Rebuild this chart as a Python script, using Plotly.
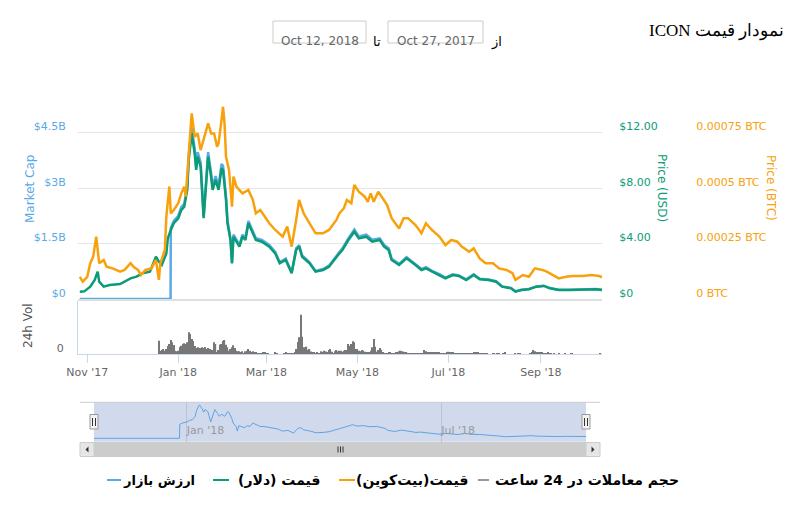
import plotly.graph_objects as go
import pandas as pd

# ---------------- data ----------------
usd_dates = ["2017-10-27","2017-10-30","2017-11-03","2017-11-06","2017-11-08","2017-11-09","2017-11-12","2017-11-16",
             "2017-11-23","2017-11-30","2017-12-04","2017-12-08","2017-12-13","2017-12-17","2017-12-19","2017-12-21",
             "2017-12-24","2017-12-25","2017-12-27","2017-12-29","2018-01-01","2018-01-03","2018-01-05","2018-01-07",
             "2018-01-08","2018-01-10","2018-01-12","2018-01-13","2018-01-14","2018-01-16","2018-01-18","2018-01-20",
             "2018-01-21","2018-01-23","2018-01-24","2018-01-26","2018-01-28","2018-01-30","2018-01-31","2018-02-02",
             "2018-02-03","2018-02-05","2018-02-06","2018-02-07","2018-02-11","2018-02-13","2018-02-15","2018-02-17",
             "2018-02-20","2018-02-22","2018-02-26","2018-03-03","2018-03-07","2018-03-10","2018-03-14","2018-03-18",
             "2018-03-21","2018-03-23","2018-03-25","2018-03-30","2018-04-03","2018-04-08","2018-04-12","2018-04-17",
             "2018-04-19","2018-04-21","2018-04-25","2018-04-29","2018-05-02","2018-05-07","2018-05-11","2018-05-16",
             "2018-05-19","2018-05-22","2018-05-24","2018-05-29","2018-06-03","2018-06-09","2018-06-13","2018-06-16",
             "2018-06-20","2018-06-25","2018-06-29","2018-07-04","2018-07-08","2018-07-13","2018-07-18","2018-07-22",
             "2018-07-28","2018-08-02","2018-08-06","2018-08-12","2018-08-15","2018-08-19","2018-08-24","2018-08-29",
             "2018-09-03","2018-09-07","2018-09-13","2018-09-20","2018-09-29","2018-10-08","2018-10-12"]
usd_price = [0.53,0.55,0.89,1.37,1.97,1.25,0.89,1.01,
             1.08,1.49,1.61,1.85,1.97,3.05,2.69,2.45,
             3.29,4.37,4.97,5.46,5.82,6.41,6.65,7.86,
             10.02,11.94,10.50,9.30,10.26,9.53,5.82,8.81,
             10.26,8.81,7.86,8.58,7.86,9.42,9.30,7.14,
             5.46,4.25,2.57,4.49,3.77,4.49,4.25,5.46,
             4.74,4.25,4.13,3.77,3.29,2.57,2.81,1.85,
             3.53,3.77,3.05,2.57,1.97,2.09,2.33,3.05,
             3.29,3.53,4.25,4.85,4.37,4.49,4.13,4.25,
             3.77,3.53,2.81,2.45,2.93,2.45,2.09,2.21,
             1.97,1.73,1.49,1.73,1.66,1.37,1.73,1.42,
             1.37,1.25,0.89,0.77,0.53,0.65,0.70,0.89,
             0.94,0.77,0.65,0.65,0.70,0.70,0.65]

mcap_dates = ["2017-10-27","2017-12-26 20:00"] + usd_dates[18:]
mcap_billion = [0,0,
                1.92,2.11,2.25,2.48,2.57,3.04,
                3.88,4.62,4.06,3.60,3.97,3.69,2.25,3.41,
                3.97,3.41,3.04,3.32,3.04,3.65,3.60,2.76,
                2.11,1.64,0.99,1.74,1.46,1.74,1.64,2.11,
                1.83,1.64,1.60,1.46,1.27,0.99,1.09,0.72,
                1.37,1.46,1.18,0.99,0.76,0.81,0.90,1.18,
                1.27,1.37,1.64,1.88,1.69,1.74,1.60,1.64,
                1.46,1.37,1.09,0.95,1.13,0.95,0.81,0.86,
                0.76,0.67,0.58,0.67,0.64,0.53,0.67,0.55,
                0.53,0.48,0.34,0.30,0.21,0.25,0.27,0.34,
                0.36,0.30,0.25,0.25,0.27,0.27,0.25]

btc_dates = ["2017-10-27","2017-10-29","2017-11-01","2017-11-03","2017-11-05","2017-11-07","2017-11-08","2017-11-09",
             "2017-11-12","2017-11-14","2017-11-18","2017-11-23","2017-11-26","2017-11-30","2017-12-02","2017-12-05",
             "2017-12-07","2017-12-10","2017-12-14","2017-12-17","2017-12-19","2017-12-20","2017-12-23","2017-12-24",
             "2017-12-26","2017-12-27","2017-12-29","2018-01-01","2018-01-03","2018-01-05","2018-01-06","2018-01-08",
             "2018-01-10","2018-01-12","2018-01-14","2018-01-16","2018-01-18","2018-01-21","2018-01-23","2018-01-25",
             "2018-01-27","2018-01-28","2018-01-30","2018-01-31","2018-02-01","2018-02-02","2018-02-04","2018-02-06",
             "2018-02-07","2018-02-09","2018-02-13","2018-02-17","2018-02-20","2018-02-22","2018-02-25","2018-02-28",
             "2018-03-03","2018-03-07","2018-03-12","2018-03-15","2018-03-18","2018-03-21","2018-03-23","2018-03-26",
             "2018-03-30","2018-04-03","2018-04-08","2018-04-12","2018-04-17","2018-04-19","2018-04-22","2018-04-24",
             "2018-04-27","2018-04-29","2018-05-02","2018-05-06","2018-05-08","2018-05-10","2018-05-12","2018-05-15",
             "2018-05-18","2018-05-21","2018-05-24","2018-05-29","2018-06-01","2018-06-04","2018-06-09","2018-06-13",
             "2018-06-16","2018-06-20","2018-06-25","2018-06-29","2018-07-03","2018-07-07","2018-07-10","2018-07-15",
             "2018-07-18","2018-07-22","2018-07-26","2018-07-31","2018-08-04","2018-08-09","2018-08-13","2018-08-15",
             "2018-08-20","2018-08-24","2018-08-28","2018-09-02","2018-09-05","2018-09-09","2018-09-13","2018-09-18",
             "2018-09-22","2018-09-29","2018-10-05","2018-10-10","2018-10-12"]
btc_price = [0.000100,0.000078,0.000100,0.000161,0.000191,0.000281,0.000221,0.000161,
             0.000176,0.000145,0.000138,0.000123,0.000131,0.000161,0.000145,0.000131,
             0.000108,0.000131,0.000138,0.000176,0.000086,0.000161,0.000221,0.000371,
             0.000506,0.000386,0.000401,0.000431,0.000476,0.000506,0.000461,0.000671,
             0.000836,0.000731,0.000746,0.000671,0.000716,0.000791,0.000746,0.000746,
             0.000686,0.000701,0.000806,0.000866,0.000791,0.000641,0.000581,0.000416,
             0.000551,0.000506,0.000476,0.000491,0.000446,0.000386,0.000401,0.000371,
             0.000341,0.000311,0.000281,0.000326,0.000236,0.000356,0.000446,0.000386,
             0.000341,0.000296,0.000296,0.000311,0.000356,0.000386,0.000409,0.000446,
             0.000431,0.000514,0.000483,0.000461,0.000438,0.000476,0.000438,0.000483,
             0.000454,0.000423,0.000364,0.000318,0.000364,0.000364,0.000333,0.000296,
             0.000341,0.000311,0.000281,0.000243,0.000266,0.000258,0.000236,0.000213,
             0.000228,0.000183,0.000161,0.000161,0.000138,0.000131,0.000116,0.000086,
             0.000108,0.000100,0.000138,0.000131,0.000123,0.000108,0.000093,0.000100,
             0.000104,0.000104,0.000108,0.000104,0.000098]

vol_start = "2017-12-19"
vol_million = [133,33,40,50,33,50,80,100,140,117,
               90,33,27,33,70,83,100,107,100,117,
               217,200,150,130,80,60,67,60,60,67,
               60,70,50,60,50,43,40,117,100,20,
               40,93,100,130,140,93,67,33,50,67,
               87,60,33,27,27,17,27,7,27,33,
               50,33,20,27,20,17,10,7,3,7,
               20,17,10,3,0,0,0,0,13,7,
               0,0,0,0,5,20,10,7,7,7,
               7,15,50,120,167,393,173,67,50,73,
               40,50,25,17,17,10,17,7,7,27,
               17,33,25,20,40,50,23,7,27,40,
               27,33,33,23,33,40,40,
               100,83,100,127,117,50,50,33,27,40,
               33,23,17,13,17,33,67,150,73,23,
               40,60,43,17,10,10,10,13,13,10,
               10,7,13,17,27,33,27,23,17,13,10,
               7,7,7,7,7,7,7,7,7,7,
               40,27,17,17,17,17,17,17,17,17,17,
               10,7,7,7,
               17,23,20,17,17,10,
               7,7,7,7,7,7,7,7,7,7,7,7,
               13,13,13,13,10,
               7,7,7,7,7,
               0,0,0,
               10,10,0,10,5,
               0,0,
               10,17,
               0,0,0,0,0,0,
               5,0,10,10,
               0,0,0,0,0,0,
               5,17,40,27,20,17,17,17,17,
               10,10,10,17,10,7,
               0,5,0,0,5,0,0,0,
               5,0,0,0,
               10,10,
               0,0,0,0,0,0,0,0,0,0,0,0,0,0,0,0,0,0,
               10,0]

month_ticks = ["2017-11-01","2018-01-01","2018-03-01","2018-05-01","2018-07-01","2018-09-01"]
month_labels = ["Nov '17","Jan '18","Mar '18","May '18","Jul '18","Sep '18"]
nav_ticks = ["2018-01-01","2018-07-01"]
nav_labels = ["Jan '18","Jul '18"]
mcap_ticks = [0, 1.5e9, 3e9, 4.5e9]
mcap_ticktext = ["$0","$1.5B","$3B","$4.5B"]
usd_ticks = [0, 4, 8, 12]
usd_ticktext = ["$0","$4.00","$8.00","$12.00"]
btc_ticks = [0, 0.00025, 0.0005, 0.00075]
btc_ticktext = ["0 BTC","0.00025 BTC","0.0005 BTC","0.00075 BTC"]

title_text = "نمودار قیمت ICON"
legend_items = ["ارزش بازار", "قیمت (دلار)", "قیمت(بیت‌کوین)", "حجم معاملات در 24 ساعت"]

# ---------------- style ----------------
W, H = 800, 506
OX, OY = 8, 8   # page body margin of the written html
def px(x): return (x - OX) / W
def py(y): return 1 - (y - OY) / H
def rtl(s): return "\u202b" + s + "\u202c"

C_MCAP = "#5aaae6"
C_USD = "#0b9b76"
C_BTC = "#f8a10d"
C_VOL = "#777777"
FONT = "DejaVu Sans"

XD = [px(78), px(602)]
XR = ["2017-10-25 19:00", "2018-10-12 00:00"]
YMAIN = [py(299), py(77)]
YVOL = [py(354), py(301)]
NAVX = [px(94), px(586)]
NAVY = [py(441.7), py(402.3)]

vol_dates = pd.date_range(vol_start, periods=len(vol_million), freq="D")
mcap_vals = [v * 1e9 for v in mcap_billion]

fig = go.Figure()
fig.add_trace(go.Bar(x=vol_dates, y=vol_million, xaxis="x2", yaxis="y4",
                     marker=dict(color=C_VOL, line=dict(width=0)), width=86400000 * 0.8))
fig.add_trace(go.Scatter(x=mcap_dates, y=mcap_vals, mode="lines", xaxis="x", yaxis="y",
                         line=dict(color=C_MCAP, width=2.5)))
fig.add_trace(go.Scatter(x=usd_dates, y=usd_price, mode="lines", xaxis="x", yaxis="y2",
                         line=dict(color=C_USD, width=2.5)))
fig.add_trace(go.Scatter(x=btc_dates, y=btc_price, mode="lines", xaxis="x", yaxis="y3",
                         line=dict(color=C_BTC, width=2.5)))
fig.add_trace(go.Scatter(x=mcap_dates, y=mcap_vals, mode="lines", xaxis="x3", yaxis="y9",
                         line=dict(color="#5fa3e0", width=1)))
for ya, xa in [("y5", "x"), ("y6", "x"), ("y7", "x"), ("y8", "x2")]:
    fig.add_trace(go.Scatter(x=[None], y=[None], xaxis=xa, yaxis=ya, mode="lines", hoverinfo="skip"))

lab_shift = 6.0
d_mcap = 6e9 * lab_shift / 222
d_usd = 16 * lab_shift / 222
d_btc = 0.001 * lab_shift / 222
d_vol = 530 * lab_shift / 53

fig.update_layout(
    width=W, height=H, margin=dict(l=0, r=0, t=0, b=0, autoexpand=False),
    paper_bgcolor="white", plot_bgcolor="white", showlegend=False, hovermode=False,
    font=dict(family=FONT, size=11, color="#666666"),
    xaxis=dict(domain=XD, range=XR, anchor="y", showticklabels=False, showgrid=False, zeroline=False,
               showline=True, linecolor="#dedede", linewidth=2, ticks="", automargin=False),
    yaxis=dict(domain=YMAIN, range=[0, 6e9], anchor="x", tickvals=[0, 1.5e9, 3e9, 4.5e9, 6e9],
               showticklabels=False, gridcolor="#e6e6e6", gridwidth=1, zeroline=False, ticks="",
               automargin=False),
    yaxis2=dict(overlaying="y", range=[0, 16], visible=False, automargin=False),
    yaxis3=dict(overlaying="y", range=[0, 0.001], visible=False, automargin=False),
    yaxis5=dict(overlaying="y", anchor="free", position=px(78), side="left",
                range=[-d_mcap, 6e9 - d_mcap], tickvals=mcap_ticks, ticktext=mcap_ticktext,
                showgrid=False, zeroline=False, showline=False, ticks="outside", ticklen=10,
                tickcolor="rgba(0,0,0,0)", tickfont=dict(color=C_MCAP, size=11, family=FONT),
                automargin=False),
    yaxis6=dict(overlaying="y", anchor="free", position=px(614), side="right",
                range=[-d_usd, 16 - d_usd], tickvals=usd_ticks, ticktext=usd_ticktext,
                showgrid=False, zeroline=False, showline=False, ticks="outside", ticklen=2,
                tickcolor="rgba(0,0,0,0)", tickfont=dict(color=C_USD, size=11, family=FONT),
                automargin=False),
    yaxis7=dict(overlaying="y", anchor="free", position=px(691), side="right",
                range=[-d_btc, 0.001 - d_btc], tickvals=btc_ticks, ticktext=btc_ticktext,
                showgrid=False, zeroline=False, showline=False, ticks="outside", ticklen=2,
                tickcolor="rgba(0,0,0,0)", tickfont=dict(color=C_BTC, size=11, family=FONT),
                automargin=False),
    xaxis2=dict(domain=XD, range=XR, anchor="y4", tickvals=month_ticks, ticktext=month_labels,
                ticks="outside", ticklen=8, tickcolor="#ccd6eb", showline=True, linecolor="#ccd6eb",
                linewidth=1, showgrid=False, zeroline=False, tickfont=dict(color="#666666", size=11),
                automargin=False),
    yaxis4=dict(domain=YVOL, anchor="x2", range=[0, 530], showticklabels=False, showgrid=False,
                zeroline=False, showline=True, linecolor="#ccd6eb", ticks="", automargin=False),
    yaxis8=dict(overlaying="y4", anchor="free", position=px(78), side="left",
                range=[-d_vol, 530 - d_vol], tickvals=[0], ticktext=["0"], showgrid=False,
                zeroline=False, showline=False, ticks="outside", ticklen=12,
                tickcolor="rgba(0,0,0,0)", tickfont=dict(color="#666666", size=11), automargin=False),
    xaxis3=dict(domain=NAVX, anchor="y9", range=["2017-10-27", "2018-10-12"], tickvals=nav_ticks,
                ticktext=nav_labels, showgrid=True, gridcolor="#b9c3d9", gridwidth=1, ticks="",
                ticklabelposition="inside right", zeroline=False, showline=False,
                tickfont=dict(color="#999999", size=11), automargin=False),
    yaxis9=dict(domain=NAVY, anchor="x3", range=[-0.47e9, 4.97e9], visible=False, automargin=False),
)

shapes = []
# navigator mask & outline
shapes.append(dict(type="rect", xref="paper", yref="paper", x0=NAVX[0], x1=NAVX[1], y0=NAVY[0], y1=NAVY[1],
                   fillcolor="rgba(102,133,194,0.3)", line=dict(width=0), layer="below"))
shapes.append(dict(type="line", xref="paper", yref="paper", x0=px(80), x1=px(600), y0=py(402.3), y1=py(402.3),
                   line=dict(color="#cccccc", width=1)))
# navigator handles
for cx in (94, 586):
    shapes.append(dict(type="rect", xref="paper", yref="paper", x0=px(cx - 4), x1=px(cx + 4),
                       y0=py(429), y1=py(414.5), fillcolor="#f2f2f2", line=dict(color="#999999", width=1)))
    for dx in (-1.5, 1.5):
        shapes.append(dict(type="line", xref="paper", yref="paper", x0=px(cx + dx), x1=px(cx + dx),
                           y0=py(418), y1=py(426), line=dict(color="#333333", width=1)))
# scrollbar
shapes.append(dict(type="rect", xref="paper", yref="paper", x0=px(80), x1=px(600), y0=py(456.5), y1=py(442.5),
                   fillcolor="#f2f2f2", line=dict(width=0)))
shapes.append(dict(type="rect", xref="paper", yref="paper", x0=px(94), x1=px(586), y0=py(456.5), y1=py(442.5),
                   fillcolor="#cccccc", line=dict(color="#cccccc", width=1)))
for x0, x1 in ((80, 94), (586, 600)):
    shapes.append(dict(type="rect", xref="paper", yref="paper", x0=px(x0), x1=px(x1), y0=py(456.5), y1=py(442.5),
                       fillcolor="#e6e6e6", line=dict(color="#cccccc", width=1)))
shapes.append(dict(type="path", xref="paper", yref="paper", fillcolor="#333333", line=dict(width=0),
                   path=f"M {px(85.5)} {py(449.5)} L {px(88.5)} {py(446.5)} L {px(88.5)} {py(452.5)} Z"))
shapes.append(dict(type="path", xref="paper", yref="paper", fillcolor="#333333", line=dict(width=0),
                   path=f"M {px(594.5)} {py(449.5)} L {px(591.5)} {py(446.5)} L {px(591.5)} {py(452.5)} Z"))
for gx in (338, 340.5, 343):
    shapes.append(dict(type="line", xref="paper", yref="paper", x0=px(gx), x1=px(gx), y0=py(446.5), y1=py(452.5),
                       line=dict(color="#333333", width=1)))
# date boxes
for x0, x1 in ((273, 366), (388, 483)):
    shapes.append(dict(type="rect", xref="paper", yref="paper", x0=px(x0), x1=px(x1), y0=py(43), y1=py(21),
                       fillcolor="white", line=dict(color="#cccccc", width=1)))
# legend symbols
leg_sym = [(107, 121, C_MCAP), (213, 229, C_USD), (339, 355, C_BTC), (478, 489, "#999999")]
for x0, x1, c in leg_sym:
    shapes.append(dict(type="line", xref="paper", yref="paper", x0=px(x0), x1=px(x1), y0=py(480), y1=py(480),
                       line=dict(color=c, width=2)))

annotations = [
    dict(text=rtl(title_text), x=px(786), y=py(31), xanchor="right", yanchor="middle",
         font=dict(family="Liberation Serif", size=17, color="#000000")),
    dict(text="Oct 12, 2018", x=px(319.5), y=py(32), font=dict(size=12, color="#666666")),
    dict(text="Oct 27, 2017", x=px(435.5), y=py(32), font=dict(size=12, color="#666666")),
    dict(text="تا", x=px(377), y=py(32), font=dict(size=13, color="#000000")),
    dict(text="از", x=px(496), y=py(32), font=dict(size=13, color="#000000")),
    dict(text="Market Cap", x=px(21), y=py(189), textangle=-90, font=dict(size=12, color=C_MCAP)),
    dict(text="24h Vol", x=px(19), y=py(326), textangle=-90, font=dict(size=12, color="#555555")),
    dict(text="Price (USD)", x=px(671), y=py(188), textangle=90, font=dict(size=12, color=C_USD)),
    dict(text="Price (BTC)", x=px(780), y=py(188), textangle=90, font=dict(size=12, color=C_BTC)),
]
leg_text_right = [197, 322, 470, 681]
leg_size = [13, 14, 14, 14]
for t, x, s in zip(legend_items, leg_text_right, leg_size):
    annotations.append(dict(text=rtl(t), x=px(x), y=py(480), xanchor="right", yanchor="middle",
                            font=dict(family=FONT, size=s, color="#000000", weight="bold")))
for a in annotations:
    a.setdefault("xref", "paper")
    a.setdefault("yref", "paper")
    a.setdefault("showarrow", False)

fig.update_layout(shapes=shapes, annotations=annotations)
fig.write_html("out.html")
